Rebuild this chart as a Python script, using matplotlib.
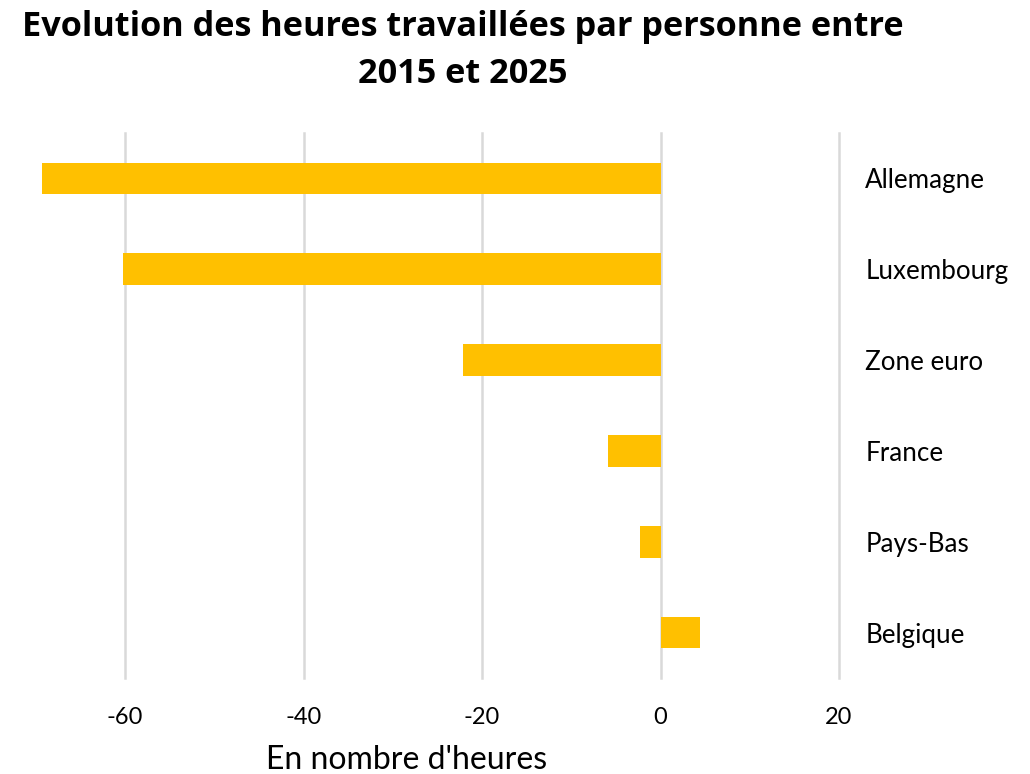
# Evolution des heures travaillées par personne (2015-2025)
import matplotlib
matplotlib.use("Agg")
import matplotlib.pyplot as plt

pays = ["Allemagne", "Luxembourg", "Zone euro", "France", "Pays-Bas", "Belgique"]
evolution = [-69.3, -60.2, -22.1, -5.9, -2.3, 4.4]
graduations = [-60, -40, -20, 0, 20]

jaune = "#FFC000"
gris = "#D9D9D9"

fig = plt.figure(figsize=(10.3, 7.74), dpi=100)
ax = fig.add_axes([34 / 1030, 1 - 678 / 774, (839 - 34) / 1030, (678 - 133) / 774])

pos = list(range(len(pays)))
ax.barh(pos, evolution, height=0.35, color=jaune, zorder=3)

ax.set_xlim(-70.2, 20)
ax.set_ylim(len(pays) - 0.5, -0.5)
ax.set_xticks(graduations)
ax.set_xticklabels([str(g) for g in graduations], fontsize=17, family="Lato")
ax.set_yticks(pos)
ax.set_yticklabels(pays, fontsize=18.7, family="Lato")
ax.yaxis.tick_right()
ax.tick_params(axis="y", length=0, pad=19)
ax.tick_params(axis="x", length=0, pad=21)

ax.grid(axis="x", color=gris, linewidth=1.8, zorder=0)
for gl in ax.get_xgridlines():
    gl.set_clip_on(False)
for s in ax.spines.values():
    s.set_visible(False)

# titre de l'axe x
fig.text(407 / 1030, 1 - 760 / 774, "En nombre d'heures",
         ha="center", va="center", fontsize=23, family="Lato")

# titre sur deux lignes
fig.text(463 / 1030, 1 - 36 / 774, "Evolution des heures travaillées par personne entre",
         ha="center", va="baseline", fontsize=24.7, fontweight="bold", family="Open Sans")
fig.text(463 / 1030, 1 - 83 / 774, "2015 et 2025",
         ha="center", va="baseline", fontsize=24.7, fontweight="bold", family="Open Sans")

fig.savefig("out.png", dpi=100)
